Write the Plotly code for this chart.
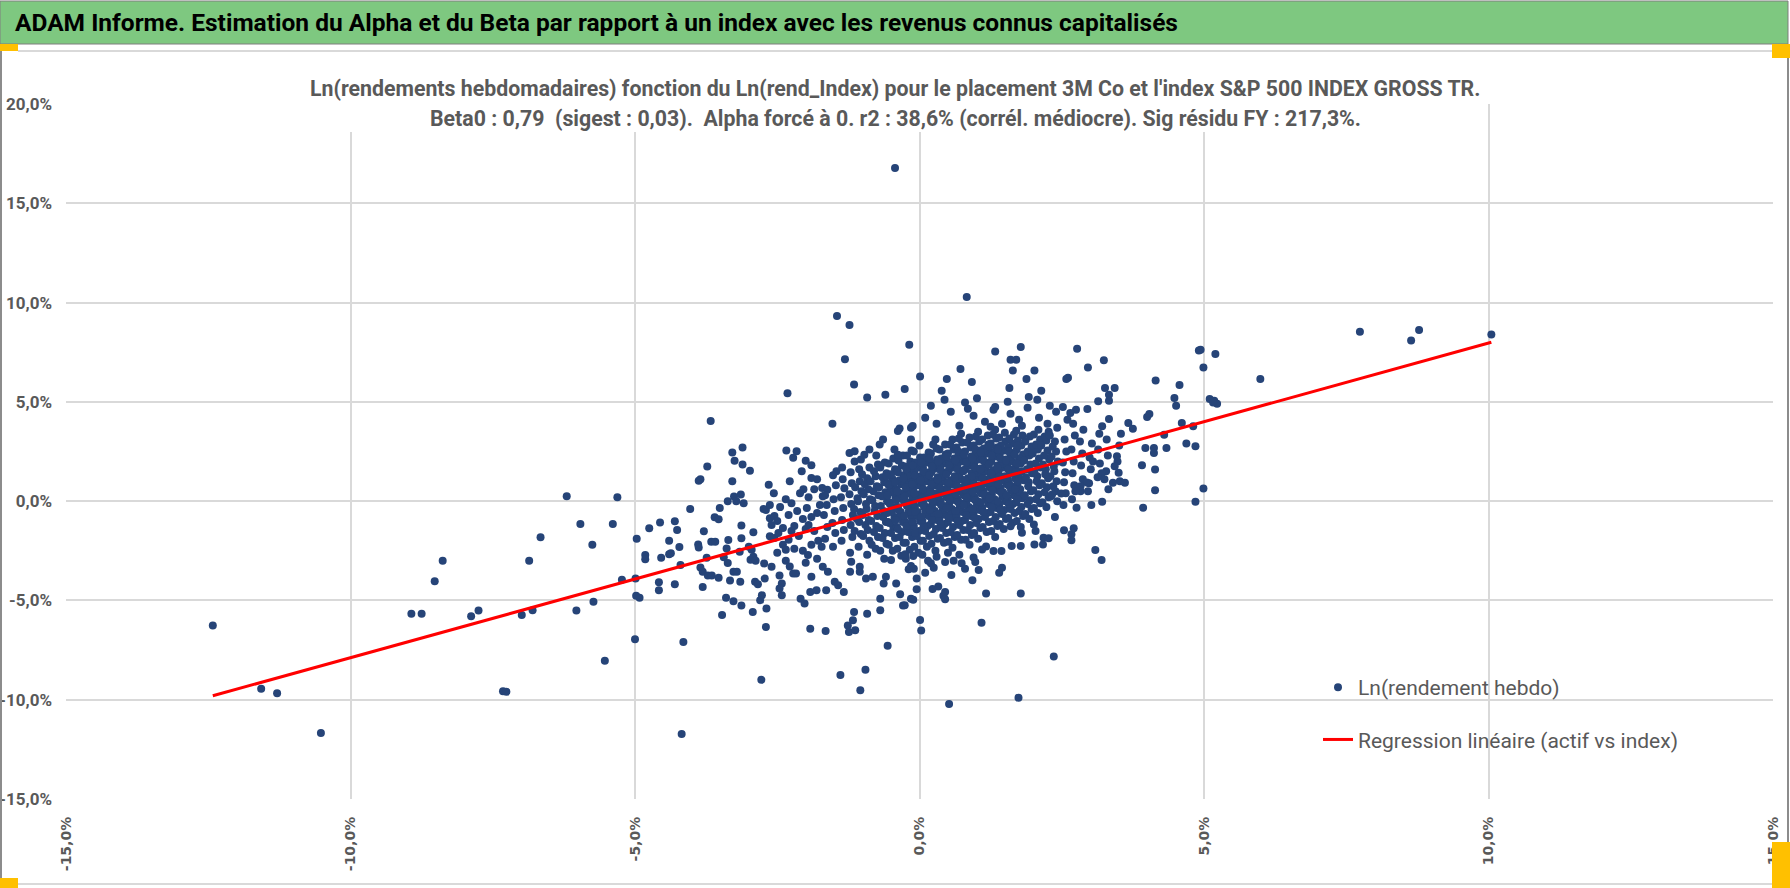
import plotly.graph_objects as go

# ---- data (ln weekly returns, in %) : (index, asset) pairs ----

pts_left = [
    (-12.42, -6.26), (-11.57, -9.45), (-11.29, -9.67), (-10.52, -11.67), (-8.93, -5.67), (-8.75, -5.67),
    (-8.52, -4.03), (-8.38, -3.0), (-7.88, -5.8), (-7.75, -5.51), (-7.32, -9.58), (-7.26, -9.6),
    (-6.99, -5.73), (-6.8, -5.5), (-6.86, -3.0), (-6.66, -1.82), (-6.2, 0.25), (-5.96, -1.15),
    (-5.75, -2.19), (-6.03, -5.51), (-5.73, -5.07), (-5.53, -8.04), (-5.39, -1.15), (-5.31, 0.19),
    (-5.23, -3.96), (-4.99, -3.9), (-4.98, -4.77), (-4.92, -4.86), (-5.0, -6.95), (-4.97, -1.89),
    (-4.82, -2.71), (-4.82, -2.93), (-4.75, -1.37), (-4.56, -1.08), (-4.58, -4.08), (-4.58, -4.49),
    (-4.54, -2.85),
]

pts_mid_left = [
    (-4.4, -1.99), (-4.4, -2.68), (-4.37, -2.63), (-4.3, -1.01), (-4.26, -1.45), (-4.3, -4.18),
    (-4.22, -2.31), (-4.2, -3.22), (-4.15, -7.09), (-4.18, -11.73), (-4.03, -0.39),
    (-3.88, 1.03), (-3.85, 1.1), (-3.73, 1.74), (-3.67, 4.03), (-3.79, -1.52), (-3.89, -2.18),
    (-3.88, -2.34), (-3.85, -3.34), (-3.81, -3.56), (-3.81, -4.32), (-3.72, -3.75), (-3.65, -3.75),
    (-3.74, -2.85), (-3.66, -2.04), (-3.59, -2.04), (-3.6, -0.81), (-3.53, -0.91), (-3.53, -3.86),
    (-3.47, -5.73), (-3.51, -0.34), (-3.4, -4.86), (-3.44, -2.83), (-3.37, -3.12), (-3.39, -2.38),
    (-3.36, -1.96), (-3.37, 0.0), (-3.29, 1.0), (-3.29, 2.45), (-3.25, 2.04), (-3.26, 0.24),
    (-3.22, 0.0), (-3.14, 0.34), (-3.09, -0.1), (-3.11, 2.7), (-3.11, 1.84), (-2.98, 1.53),
    (-3.33, -4.0), (-3.27, -3.56), (-3.21, -3.56), (-3.27, -5.04), (-3.13, -5.25), (-3.15, -4.06),
    (-3.16, -2.55), (-3.13, -1.87), (-3.13, -1.23), (-3.0, -2.3), (-2.95, -2.45), (-2.97, -2.95),
    (-2.92, -2.8), (-2.88, -3.0), (-2.92, -1.57), (-2.93, -5.58), (-2.89, -4.06), (-2.84, -4.18),
    (-2.8, -4.99), (-2.77, -4.74), (-2.73, -3.14), (-2.74, -0.4), (-2.7, -0.44), (-2.72, -3.9),
    (-2.69, -5.41), (-2.7, -6.34), (-2.78, -9.0), (-2.65, 0.82), (-2.63, -0.19), (-2.56, 0.4),
    (-2.63, -0.86), (-2.55, -0.75), (-2.6, -1.2), (-2.5, -1.0), (-2.63, -1.77), (-2.55, -1.85),
    (-2.48, -1.6), (-2.6, -3.3), (-2.46, -3.75), (-2.42, -4.15), (-2.46, -4.4), (-2.42, -4.74),
    (-2.5, -2.6), (-2.45, -0.3), (-2.35, 0.1), (-2.4, -1.35), (-2.3, -0.7), (-2.4, -2.2),
    (-2.35, -2.45), (-2.35, -3.0), (-2.3, -1.95), (-2.25, -1.5), (-2.2, -1.25), (-2.2, -2.4),
    (-2.12, -1.75), (-2.34, 2.55), (-2.16, 2.51), (-2.22, 2.18), (-2.32, 5.43), (-2.28, 1.0),
    (-2.25, -0.1), (-2.1, 0.4), (-2.04, 0.6), (-2.15, -0.5), (-2.05, -0.9), (-2.0, -1.4),
    (-2.05, -2.5), (-2.0, -3.1), (-2.28, -3.29), (-2.22, -3.64), (-2.17, -3.64), (-2.07, 1.5),
    (-2.0, 2.04), (-1.9, 1.81), (-2.09, -4.91), (-2.02, -5.16), (-1.92, -6.43), (-1.92, -4.57),
    (-1.81, -4.49), (-1.9, -3.81), (-1.96, -2.71), (-1.9, 1.16), (-1.85, 0.6), (-1.8, 1.1),
    (-1.71, 0.66), (-1.9, -0.8), (-1.95, -1.2), (-1.98, -0.35), (-1.95, 0.2), (-1.9, -2.2),
    (-1.8, -0.6), (-1.85, -1.5), (-1.78, -2.0), (-1.72, -2.3), (-1.8, -2.9), (-1.7, -3.3),
    (-1.75, -0.2), (-1.7, 0.25), (-1.65, -6.54), (-1.64, -4.49), (-1.61, -3.56), (-1.62, 0.57),
    (-1.53, 3.9), (-1.46, 1.5),
]

pts_core = [
    (-1.66, -1.9), (-1.62, -1.3), (-1.68, -0.7), (-1.63, -0.2), (-1.66, 0.3),
    (-1.52, -2.3), (-1.48, -1.6), (-1.53, -1.1), (-1.49, -0.5), (-1.51, 0.1), (-1.47, 0.8), (-1.52, 1.3),
    (-1.37, -2.0), (-1.33, -1.45), (-1.36, -0.95), (-1.34, -0.35), (-1.38, 0.2), (-1.32, 0.65), (-1.35, 1.1), (-1.36, 1.7),
    (-1.22, -2.6), (-1.18, -1.8), (-1.21, -1.2), (-1.17, -0.7), (-1.2, -0.15), (-1.23, 0.35), (-1.19, 0.9), (-1.21, 1.45),
    (-1.07, -2.3), (-1.03, -1.65), (-1.06, -1.05), (-1.04, -0.55), (-1.08, 0.0), (-1.02, 0.5), (-1.05, 1.0), (-1.06, 1.6), (-1.03, 2.1),
    (-0.92, -2.7), (-0.88, -2.0), (-0.91, -1.45), (-0.89, -0.95), (-0.93, -0.4), (-0.87, 0.1), (-0.9, 0.6), (-0.92, 1.15), (-0.88, 1.7),
    (-0.77, -2.4), (-0.73, -1.8), (-0.76, -1.25), (-0.74, -0.75), (-0.78, -0.25), (-0.72, 0.3), (-0.75, 0.75), (-0.77, 1.25), (-0.73, 1.85), (-0.76, 2.3),
    (-0.62, -2.9), (-0.58, -2.15), (-0.61, -1.6), (-0.59, -1.05), (-0.63, -0.5), (-0.57, 0.0), (-0.6, 0.45), (-0.62, 0.95), (-0.58, 1.4), (-0.61, 1.95),
    (-0.47, -2.5), (-0.43, -1.85), (-0.46, -1.3), (-0.44, -0.8), (-0.48, -0.3), (-0.42, 0.2), (-0.45, 0.65), (-0.47, 1.1), (-0.43, 1.6), (-0.46, 2.15), (-0.44, 2.6),
    (-0.32, -2.75), (-0.28, -2.1), (-0.31, -1.55), (-0.29, -1.05), (-0.33, -0.55), (-0.27, -0.05), (-0.3, 0.4), (-0.32, 0.85), (-0.28, 1.3), (-0.31, 1.8), (-0.29, 2.3),
    (-0.17, -2.45), (-0.13, -1.8), (-0.16, -1.3), (-0.14, -0.8), (-0.18, -0.3), (-0.12, 0.15), (-0.15, 0.6), (-0.17, 1.05), (-0.13, 1.5), (-0.16, 2.0), (-0.14, 2.55),
    (-0.02, -2.6), (0.02, -2.0), (-0.01, -1.5), (0.01, -1.0), (-0.03, -0.55), (0.03, -0.1), (0.0, 0.35), (-0.02, 0.8), (0.02, 1.25), (-0.01, 1.7), (0.01, 2.2), (0.0, 2.8),
    (0.13, -2.3), (0.17, -1.75), (0.14, -1.25), (0.16, -0.75), (0.12, -0.3), (0.18, 0.15), (0.15, 0.55), (0.13, 1.0), (0.17, 1.45), (0.14, 1.95), (0.16, 2.45),
    (0.28, -2.5), (0.32, -1.9), (0.29, -1.4), (0.31, -0.95), (0.27, -0.5), (0.33, -0.05), (0.3, 0.4), (0.28, 0.8), (0.32, 1.2), (0.29, 1.65), (0.31, 2.1), (0.3, 2.65), (0.28, 3.1),
    (0.43, -2.1), (0.47, -1.6), (0.44, -1.15), (0.46, -0.7), (0.42, -0.25), (0.48, 0.2), (0.45, 0.6), (0.43, 1.0), (0.47, 1.45), (0.44, 1.9), (0.46, 2.35), (0.45, 2.85),
    (0.58, -2.35), (0.62, -1.8), (0.59, -1.3), (0.61, -0.85), (0.57, -0.4), (0.63, 0.05), (0.6, 0.45), (0.58, 0.85), (0.62, 1.25), (0.59, 1.7), (0.61, 2.15), (0.6, 2.6), (0.58, 3.1),
    (0.73, -1.95), (0.77, -1.45), (0.74, -1.0), (0.76, -0.55), (0.72, -0.1), (0.78, 0.3), (0.75, 0.7), (0.73, 1.1), (0.77, 1.55), (0.74, 2.0), (0.76, 2.45), (0.75, 2.95), (0.73, 3.4),
    (0.88, -2.2), (0.92, -1.7), (0.89, -1.2), (0.91, -0.75), (0.87, -0.3), (0.93, 0.15), (0.9, 0.55), (0.88, 0.95), (0.92, 1.4), (0.89, 1.8), (0.91, 2.25), (0.9, 2.7), (0.88, 3.2),
    (1.03, -1.9), (1.07, -1.35), (1.04, -0.9), (1.06, -0.45), (1.02, 0.0), (1.08, 0.4), (1.05, 0.8), (1.03, 1.2), (1.07, 1.65), (1.04, 2.1), (1.06, 2.55), (1.05, 3.0), (1.03, 3.5),
    (1.18, -1.55), (1.22, -1.05), (1.19, -0.6), (1.21, -0.15), (1.17, 0.3), (1.23, 0.7), (1.2, 1.1), (1.18, 1.5), (1.22, 1.95), (1.19, 2.4), (1.21, 2.85), (1.2, 3.3),
    (1.33, -1.8), (1.37, -1.25), (1.34, -0.8), (1.36, -0.35), (1.32, 0.1), (1.38, 0.55), (1.35, 0.95), (1.33, 1.35), (1.37, 1.8), (1.34, 2.25), (1.36, 2.7), (1.35, 3.15), (1.33, 3.6),
    (1.48, -1.4), (1.52, -0.9), (1.49, -0.45), (1.51, 0.0), (1.47, 0.45), (1.53, 0.85), (1.5, 1.25), (1.48, 1.7), (1.52, 2.1), (1.49, 2.55), (1.51, 3.0), (1.5, 3.45),
    (1.63, -1.1), (1.67, -0.6), (1.64, -0.15), (1.66, 0.3), (1.62, 0.75), (1.68, 1.15), (1.65, 1.6), (1.63, 2.0), (1.67, 2.45), (1.64, 2.9), (1.66, 3.35),
    (1.78, -1.3), (1.82, -0.75), (1.79, -0.3), (1.81, 0.15), (1.77, 0.6), (1.83, 1.05), (1.8, 1.5), (1.78, 1.9), (1.82, 2.35), (1.79, 2.8), (1.81, 3.3), (1.8, 3.8),
    (1.93, -0.9), (1.97, -0.4), (1.94, 0.05), (1.96, 0.5), (1.92, 0.95), (1.98, 1.4), (1.95, 1.85), (1.93, 2.3), (1.97, 2.75), (1.94, 3.25),
    (2.08, -0.6), (2.12, -0.1), (2.09, 0.35), (2.11, 0.8), (2.07, 1.25), (2.13, 1.7), (2.1, 2.15), (2.08, 2.6), (2.12, 3.1), (2.09, 3.6),
    (2.23, -0.3), (2.27, 0.2), (2.24, 0.7), (2.26, 1.15), (2.22, 1.6), (2.28, 2.1), (2.25, 2.55), (2.23, 3.05), (2.27, 3.5),
    (2.38, -0.8), (2.42, 0.0), (2.39, 0.5), (2.41, 1.0), (2.37, 1.5), (2.43, 2.0), (2.4, 2.5), (2.38, 3.0), (2.42, 3.7),
    (2.53, -0.2), (2.57, 0.4), (2.54, 0.95), (2.56, 1.45), (2.52, 1.95), (2.58, 2.5), (2.55, 3.1),
    (2.68, 0.1), (2.72, 0.8), (2.69, 1.4), (2.71, 2.0), (2.67, 2.6), (2.73, 3.3), (2.7, 3.9),
    (2.83, 0.5), (2.87, 1.1), (2.84, 1.8), (2.86, 2.4), (2.82, 3.0), (2.88, 3.6),
    (3.02, -0.2), (2.98, 0.9), (3.01, 1.6), (2.99, 2.2), (3.03, 2.9),
    (3.13, 1.2), (3.17, 1.9), (3.14, 2.6), (3.16, 3.4),
    (3.32, 0.6), (3.28, 1.5), (3.31, 2.3), (3.29, 3.1),
    (3.52, 1.0), (3.48, 2.0), (3.51, 2.8),
]

# second, offset layer of the densest part of the cloud
pts_core_dense = [
    (-1.14, -1.5), (-1.1, -0.9), (-1.15, -0.4), (-1.09, 0.15), (-1.13, 0.7),
    (-0.99, -1.75), (-0.95, -1.2), (-1.0, -0.7), (-0.94, -0.15), (-0.98, 0.35), (-0.96, 0.85), (-1.01, 1.35),
    (-0.84, -2.2), (-0.8, -1.55), (-0.85, -1.0), (-0.79, -0.5), (-0.83, 0.05), (-0.81, 0.5), (-0.86, 1.0), (-0.8, 1.5),
    (-0.69, -2.5), (-0.65, -1.85), (-0.7, -1.35), (-0.64, -0.8), (-0.68, -0.25), (-0.66, 0.25), (-0.71, 0.7), (-0.65, 1.2), (-0.69, 1.7),
    (-0.54, -2.2), (-0.5, -1.6), (-0.55, -1.05), (-0.49, -0.55), (-0.53, -0.05), (-0.51, 0.45), (-0.56, 0.9), (-0.5, 1.35), (-0.54, 1.9),
    (-0.39, -2.4), (-0.35, -1.8), (-0.4, -1.3), (-0.34, -0.8), (-0.38, -0.3), (-0.36, 0.15), (-0.41, 0.6), (-0.35, 1.05), (-0.39, 1.55), (-0.37, 2.05),
    (-0.24, -2.1), (-0.2, -1.55), (-0.25, -1.05), (-0.19, -0.55), (-0.23, -0.05), (-0.21, 0.4), (-0.26, 0.85), (-0.2, 1.3), (-0.24, 1.75), (-0.22, 2.3),
    (-0.09, -2.3), (-0.05, -1.75), (-0.1, -1.25), (-0.04, -0.75), (-0.08, -0.3), (-0.06, 0.15), (-0.11, 0.6), (-0.05, 1.05), (-0.09, 1.5), (-0.07, 1.95), (-0.1, 2.5),
    (0.06, -2.0), (0.1, -1.5), (0.05, -1.0), (0.11, -0.55), (0.07, -0.1), (0.09, 0.35), (0.04, 0.8), (0.1, 1.2), (0.06, 1.7), (0.08, 2.2),
    (0.21, -2.15), (0.25, -1.65), (0.2, -1.15), (0.26, -0.7), (0.22, -0.25), (0.24, 0.2), (0.19, 0.6), (0.25, 1.0), (0.21, 1.45), (0.23, 1.9), (0.2, 2.4), (0.24, 2.85),
    (0.36, -1.85), (0.4, -1.35), (0.35, -0.9), (0.41, -0.45), (0.37, 0.0), (0.39, 0.4), (0.34, 0.8), (0.4, 1.25), (0.36, 1.7), (0.38, 2.15), (0.35, 2.6),
    (0.51, -2.05), (0.55, -1.55), (0.5, -1.05), (0.56, -0.6), (0.52, -0.15), (0.54, 0.25), (0.49, 0.65), (0.55, 1.05), (0.51, 1.5), (0.53, 1.95), (0.5, 2.4), (0.54, 2.85),
    (0.66, -1.7), (0.7, -1.2), (0.65, -0.75), (0.71, -0.3), (0.67, 0.1), (0.69, 0.5), (0.64, 0.9), (0.7, 1.35), (0.66, 1.8), (0.68, 2.25), (0.65, 2.7), (0.69, 3.15),
    (0.81, -1.95), (0.85, -1.45), (0.8, -0.95), (0.86, -0.5), (0.82, -0.05), (0.84, 0.35), (0.79, 0.75), (0.85, 1.15), (0.81, 1.6), (0.83, 2.05), (0.8, 2.5), (0.84, 2.95),
    (0.96, -1.6), (1.0, -1.1), (0.95, -0.65), (1.01, -0.2), (0.97, 0.2), (0.99, 0.6), (0.94, 1.0), (1.0, 1.45), (0.96, 1.9), (0.98, 2.35), (0.95, 2.8), (0.99, 3.25),
    (1.11, -1.3), (1.15, -0.8), (1.1, -0.35), (1.16, 0.1), (1.12, 0.5), (1.14, 0.9), (1.09, 1.3), (1.15, 1.75), (1.11, 2.2), (1.13, 2.65), (1.1, 3.1),
    (1.26, -1.5), (1.3, -1.0), (1.25, -0.55), (1.31, -0.1), (1.27, 0.35), (1.29, 0.75), (1.24, 1.15), (1.3, 1.55), (1.26, 2.0), (1.28, 2.45), (1.25, 2.9), (1.29, 3.35),
    (1.41, -1.15), (1.45, -0.65), (1.4, -0.2), (1.46, 0.25), (1.42, 0.65), (1.44, 1.05), (1.39, 1.5), (1.45, 1.9), (1.41, 2.35), (1.43, 2.8), (1.4, 3.2),
    (1.56, -0.85), (1.6, -0.4), (1.55, 0.1), (1.61, 0.55), (1.57, 0.95), (1.59, 1.4), (1.54, 1.8), (1.6, 2.25), (1.56, 2.7), (1.58, 3.15),
    (1.71, -1.0), (1.75, -0.5), (1.7, -0.05), (1.76, 0.4), (1.72, 0.85), (1.74, 1.3), (1.69, 1.7), (1.75, 2.15), (1.71, 2.6), (1.73, 3.05), (1.7, 3.55),
    (1.86, -0.65), (1.9, -0.15), (1.85, 0.3), (1.91, 0.75), (1.87, 1.2), (1.89, 1.6), (1.84, 2.05), (1.9, 2.5), (1.86, 3.0),
    (2.01, -0.35), (2.05, 0.1), (2.0, 0.55), (2.06, 1.0), (2.02, 1.45), (2.04, 1.9), (1.99, 2.4), (2.05, 2.85), (2.01, 3.35),
    (2.16, -0.05), (2.2, 0.45), (2.15, 0.9), (2.21, 1.35), (2.17, 1.85), (2.19, 2.3), (2.14, 2.8), (2.2, 3.25),
    (2.31, 0.25), (2.35, 0.75), (2.3, 1.25), (2.36, 1.75), (2.32, 2.25), (2.34, 2.75), (2.29, 3.3),
]

# third layer, centre of the cloud where the marks merge into a solid patch
pts_core_centre = [
    (-0.53, -1.1), (-0.57, -0.6), (-0.52, -0.15), (-0.56, 0.3), (-0.54, 0.8), (-0.58, 1.25),
    (-0.38, -1.4), (-0.42, -0.95), (-0.37, -0.45), (-0.41, 0.05), (-0.39, 0.5), (-0.43, 0.95), (-0.38, 1.45),
    (-0.23, -1.25), (-0.27, -0.75), (-0.22, -0.25), (-0.26, 0.25), (-0.24, 0.7), (-0.28, 1.15), (-0.23, 1.6),
    (-0.08, -1.6), (-0.12, -1.05), (-0.07, -0.55), (-0.11, -0.1), (-0.09, 0.4), (-0.13, 0.85), (-0.08, 1.3), (-0.12, 1.8),
    (0.07, -1.3), (0.03, -0.8), (0.08, -0.3), (0.04, 0.15), (0.06, 0.6), (0.02, 1.05), (0.07, 1.5), (0.03, 1.95),
    (0.22, -0.95), (0.18, -0.45), (0.23, 0.0), (0.19, 0.45), (0.21, 0.85), (0.17, 1.3), (0.22, 1.75), (0.18, 2.15),
    (0.37, -1.15), (0.33, -0.65), (0.38, -0.2), (0.34, 0.25), (0.36, 0.65), (0.32, 1.1), (0.37, 1.55), (0.33, 2.0),
    (0.52, -0.85), (0.48, -0.35), (0.53, 0.1), (0.49, 0.5), (0.51, 0.95), (0.47, 1.35), (0.52, 1.8), (0.48, 2.25),
    (0.67, -1.0), (0.63, -0.5), (0.68, -0.05), (0.64, 0.35), (0.66, 0.75), (0.62, 1.2), (0.67, 1.6), (0.63, 2.05), (0.68, 2.5),
    (0.82, -0.7), (0.78, -0.2), (0.83, 0.2), (0.79, 0.6), (0.81, 1.05), (0.77, 1.5), (0.82, 1.95), (0.78, 2.35),
    (0.97, -0.85), (0.93, -0.4), (0.98, 0.05), (0.94, 0.45), (0.96, 0.85), (0.92, 1.25), (0.97, 1.7), (0.93, 2.15), (0.98, 2.6),
    (1.12, -0.55), (1.08, -0.05), (1.13, 0.35), (1.09, 0.75), (1.11, 1.15), (1.07, 1.6), (1.12, 2.05), (1.08, 2.45),
    (1.27, -0.3), (1.23, 0.15), (1.28, 0.55), (1.24, 0.95), (1.26, 1.4), (1.22, 1.85), (1.27, 2.3), (1.23, 2.75),
    (1.42, -0.45), (1.38, 0.0), (1.43, 0.45), (1.39, 0.85), (1.41, 1.25), (1.37, 1.7), (1.42, 2.15), (1.38, 2.6),
    (1.57, -0.15), (1.53, 0.3), (1.58, 0.75), (1.54, 1.15), (1.56, 1.6), (1.52, 2.05), (1.57, 2.5),
    (1.72, 0.1), (1.68, 0.6), (1.73, 1.0), (1.69, 1.45), (1.71, 1.9), (1.67, 2.35), (1.72, 2.8),
]

pts_upper = [
    (-0.43, 16.78), (0.83, 10.28), (-1.45, 9.33), (-1.23, 8.87), (-1.31, 7.15), (-1.15, 5.88),
    (-0.18, 7.87), (-0.92, 5.22), (-0.6, 5.36), (-0.26, 5.65), (-1.23, 2.43), (-1.14, 2.51),
    (-1.14, 2.0), (-0.88, 2.6), (-0.97, 2.34), (-0.7, 2.85), (-0.64, 3.1), (-0.38, 3.53),
    (-0.35, 3.66), (-0.15, 3.69), (-0.15, 3.1), (-0.12, 3.78), (-0.38, 2.34),
    (1.33, 7.54), (1.78, 7.76), (1.6, 7.12), (1.7, 7.12), (1.64, 6.58), (2.02, 6.58), (0.72, 6.65),
    (0.01, 6.28), (0.48, 6.15), (0.92, 6.0), (0.39, 5.56), (0.44, 5.11), (0.8, 4.97), (1.01, 5.18),
    (1.58, 5.7), (1.88, 6.15), (1.92, 5.25), (2.14, 5.56), (2.07, 5.11), (1.33, 4.74), (2.29, 4.81),
    (0.1, 4.2), (0.3, 3.9), (0.55, 4.5), (0.7, 3.8), (0.95, 4.3), (1.15, 4.0), (1.3, 4.6), (1.45, 3.9),
    (1.6, 4.4), (1.75, 4.1), (1.9, 4.7), (2.1, 4.2), (2.25, 3.9), (0.2, 4.8), (0.85, 4.65), (1.25, 3.75),
    (1.55, 5.0), (2.4, 4.5), (2.6, 4.1), (2.75, 4.6),
]

pts_lower = [
    (-1.49, -4.06), (-1.43, -4.23), (-1.33, -4.57), (-1.26, -6.26), (-1.24, -6.59), (-1.17, -6.0),
    (-1.15, -5.58), (-1.2, -3.05), (-1.05, -3.3), (-1.22, -3.56), (-1.05, -3.56), (-0.92, -5.67),
    (-0.69, -4.91), (-0.69, -5.5), (-0.56, -7.28), (-0.94, -3.9), (-0.82, -3.81), (-0.63, -4.15),
    (-0.59, -3.81), (-0.5, -2.97), (-0.41, -4.15), (-0.29, -5.25), (-0.15, -4.91), (-0.24, -2.9),
    (-0.1, -3.4), (-1.39, -8.76), (-0.95, -8.49), (-1.04, -9.52), (-1.13, -6.5), (0.03, -6.52),
    (-0.25, -2.68), (-0.11, -2.76), (-0.15, -3.27), (-0.19, -3.43), (-0.11, -4.97), (-0.26, -5.24),
    (-0.34, -4.69), (-0.05, -4.44),
    (0.95, -2.84), (0.98, -3.07), (0.74, -3.13), (0.56, -3.72), (0.45, -3.07), (0.33, -4.3),
    (0.23, -4.42), (0.42, -4.77), (0.45, -4.94), (0.45, -4.57), (0.2, -3.13), (1.04, -3.47),
    (0.93, -3.98), (1.17, -2.29), (1.1, -2.43), (1.3, -2.51), (1.44, -2.51), (1.45, -3.35),
    (1.4, -3.6), (1.17, -4.65), (1.78, -4.65), (1.09, -6.13), (0.01, -5.99),
    (0.05, -2.7), (0.15, -3.0), (0.3, -2.8), (0.5, -2.6), (0.6, -3.0), (0.1, -3.6), (-0.05, -3.9),
    (0.7, -2.7), (0.25, -3.35), (0.8, -3.4),
    (2.36, -7.82), (1.74, -9.9), (0.52, -10.22),
]

pts_right = [
    (2.77, 7.67), (2.96, 6.73), (3.24, 7.09), (2.58, 6.15), (2.61, 6.22), (3.26, 5.7), (3.43, 5.7),
    (3.33, 5.36), (3.33, 5.06), (3.14, 5.03), (2.95, 4.64), (2.52, 4.74), (2.65, 4.44), (4.15, 6.08),
    (4.57, 5.85), (4.48, 5.2), (4.51, 4.81), (4.91, 7.59), (4.94, 7.62), (5.2, 7.41), (4.99, 6.73),
    (5.18, 5.06), (5.23, 4.91), (4.0, 4.24), (4.04, 4.39), (3.67, 3.94), (3.75, 3.64), (3.33, 4.14),
    (3.21, 3.77), (3.54, 3.4), (4.61, 3.94), (4.81, 3.77), (4.3, 3.34), (4.69, 2.9), (4.85, 2.76),
    (3.97, 2.68), (4.12, 2.68), (4.12, 2.43), (4.34, 2.68), (3.91, 1.81), (4.14, 1.59), (4.14, 0.55),
    (3.93, -0.33), (4.85, -0.03), (4.99, 0.64), (3.47, 2.26), (3.43, 1.76), (3.5, 1.43), (3.61, 0.92),
    (3.4, 0.92), (3.21, -0.03), (3.2, 1.4), (3.25, 1.1), (3.05, 2.0), (2.94, 0.94), (2.83, 0.75),
    (2.96, 0.5), (2.74, 0.5), (2.76, -0.33), (2.49, 0.39), (2.33, 0.34), (2.54, -1.47), (2.67, -1.67),
    (2.71, -1.37), (2.67, -1.97), (3.09, -2.46), (3.2, -2.96), (2.18, -1.84), (2.27, -1.87),
    (2.17, -2.18), (2.01, -1.17), (2.04, -1.5), (2.02, -2.18), (1.8, -1.59), (1.78, -2.26),
    (1.62, -2.26), (1.6, -1.26), (5.99, 6.15), (5.1, 5.14), (5.16, 4.97),
    (7.74, 8.53), (8.64, 8.09), (8.78, 8.62), (10.05, 8.39),
]

# regression line end points (beta0 = 0.79, alpha forced to 0)
reg_x = [-12.42, 10.05]
reg_y = [-9.8, 8.0]

x_ticks = [-15, -10, -5, 0, 5, 10, 15]
x_tick_labels = ["-15,0%", "-10,0%", "-5,0%", "0,0%", "5,0%", "10,0%", "15,0%"]
y_ticks = [-15, -10, -5, 0, 5, 10, 15, 20]
y_tick_labels = ["-15,0%", "-10,0%", "-5,0%", "0,0%", "5,0%", "10,0%", "15,0%", "20,0%"]

header = "ADAM Informe. Estimation du Alpha et du Beta par rapport à un index avec les revenus connus capitalisés"
title_1 = "Ln(rendements hebdomadaires) fonction du Ln(rend_Index) pour le placement 3M Co et l'index S&amp;P 500 INDEX GROSS TR."
title_2 = "Beta0 : 0,79  (sigest : 0,03).  Alpha forcé à 0. r2 : 38,6% (corrél. médiocre). Sig résidu FY : 217,3%."

all_pts = (pts_left + pts_mid_left + pts_core + pts_core_dense + pts_core_centre
           + pts_upper + pts_lower + pts_right)
index_ret = [p[0] for p in all_pts]
asset_ret = [p[1] for p in all_pts]

# ---- layout helpers (pixel -> paper) ----
W, H = 1790, 888
L, R, T, B = 66, 17, 104, 89


def fx(px):
    return (px - L) / (W - L - R)


def fy(py):
    return (H - B - py) / (H - T - B)


NARROW = "Liberation Sans Narrow, Arial Narrow, Roboto, sans-serif"
GREY = "#595959"

fig = go.Figure()

fig.add_trace(go.Scatter(
    x=index_ret, y=asset_ret, mode="markers", name="Ln(rendement hebdo)",
    legendgroup="a",
    marker=dict(color="#264478", size=8, line=dict(width=0)),
))
fig.add_trace(go.Scatter(
    x=reg_x, y=reg_y, mode="lines", name="Regression linéaire (actif vs index)",
    legendgroup="b",
    line=dict(color="#FF0000", width=3),
))

shapes = [
    # green header band
    dict(type="rect", xref="paper", yref="paper", x0=fx(0), x1=fx(1788), y0=fy(44), y1=fy(1),
         fillcolor="#7EC880", line=dict(color="#7F7F7F", width=1)),
    # separator under header
    dict(type="line", xref="paper", yref="paper", x0=fx(18), x1=fx(1772), y0=fy(51), y1=fy(51),
         line=dict(color="#D9D9D9", width=2)),
    # chart frame
    dict(type="line", xref="paper", yref="paper", x0=fx(1), x1=fx(1), y0=fy(44), y1=fy(888),
         line=dict(color="#8C8C8C", width=2)),
    dict(type="line", xref="paper", yref="paper", x0=fx(18), x1=fx(1772), y0=fy(884), y1=fy(884),
         line=dict(color="#D9D9D9", width=2)),
    dict(type="line", xref="paper", yref="paper", x0=fx(1788), x1=fx(1788), y0=fy(44), y1=fy(888),
         line=dict(color="#8C8C8C", width=2)),
    # white box behind the chart title
    dict(type="rect", xref="paper", yref="paper", x0=fx(299), x1=fx(1483), y0=fy(132), y1=fy(76),
         fillcolor="white", line=dict(width=0), layer="above"),
]
# small yellow handles
for x0, y0, x1, y1 in [(0, 44, 18, 51), (1772, 44, 1790, 58), (0, 878, 18, 888), (1772, 842, 1790, 888)]:
    shapes.append(dict(type="rect", xref="paper", yref="paper", x0=fx(x0), x1=fx(x1), y0=fy(y1), y1=fy(y0),
                       fillcolor="#FFC000", line=dict(width=0)))

annotations = [
    dict(text="<b>" + header + "</b>", xref="paper", yref="paper", x=fx(13), y=fy(23),
         xanchor="left", yanchor="middle", showarrow=False,
         font=dict(family=NARROW, size=24.5, color="black")),
    dict(text="<b>" + title_1 + "</b>", xref="paper", yref="paper", x=fx(895), y=fy(89),
         xanchor="center", yanchor="middle", showarrow=False,
         font=dict(family=NARROW, size=21.3, color=GREY)),
    dict(text="<b>" + title_2 + "</b>", xref="paper", yref="paper", x=fx(895), y=fy(119),
         xanchor="center", yanchor="middle", showarrow=False,
         font=dict(family=NARROW, size=21.3, color=GREY)),
]

fig.update_layout(
    width=W, height=H,
    margin=dict(l=L, r=R, t=T, b=B, pad=0, autoexpand=False),
    paper_bgcolor="white", plot_bgcolor="white",
    shapes=shapes, annotations=annotations,
    showlegend=True,
    legend=dict(x=fx(1318), y=fy(667), xanchor="left", yanchor="top",
                font=dict(family=NARROW, size=21, color=GREY),
                bgcolor="rgba(0,0,0,0)", traceorder="grouped", tracegroupgap=22,
                itemwidth=30),
    xaxis=dict(range=[-15, 15], tickvals=x_ticks, ticktext=x_tick_labels, tickangle=-90,
               showgrid=True, gridcolor="#D9D9D9", gridwidth=1.5, zeroline=False,
               showline=False, ticks="", ticklabelstandoff=14, automargin=False,
               tickfont=dict(family="DejaVu Sans", size=14, color=GREY, weight="bold")),
    yaxis=dict(range=[-15, 20], tickvals=y_ticks, ticktext=y_tick_labels,
               showgrid=True, gridcolor="#D9D9D9", gridwidth=1.5, zeroline=False,
               showline=False, ticks="", ticklabelstandoff=13, automargin=False,
               tickfont=dict(family=NARROW, size=17, color=GREY, weight="bold")),
)

fig.write_html("out.html", config={"displayModeBar": False},
               post_script="document.body.style.margin='0';")
